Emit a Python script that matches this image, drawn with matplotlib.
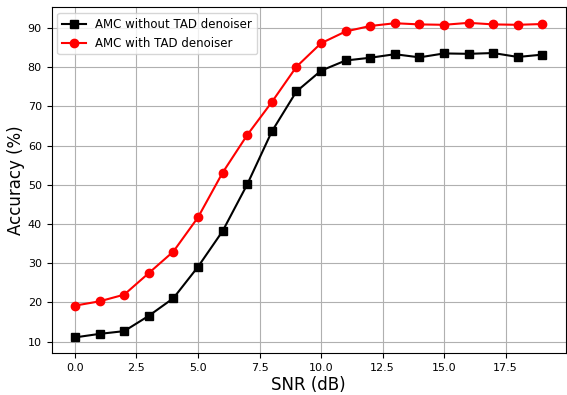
import numpy as np
import matplotlib
matplotlib.use("Agg")
import matplotlib.pyplot as plt

snr = list(range(20))
acc_without = [11.1, 12.0, 12.7, 16.6, 21.1, 29.1, 38.2, 50.1, 63.6, 73.8,
               79.1, 81.7, 82.4, 83.3, 82.5, 83.5, 83.4, 83.6, 82.6, 83.2]
acc_with = [19.2, 20.3, 22.0, 27.5, 33.0, 41.7, 53.1, 62.7, 71.1, 80.1,
            86.1, 89.1, 90.5, 91.2, 90.9, 90.8, 91.3, 90.9, 90.8, 91.0]

fig, ax = plt.subplots(figsize=(5.67, 3.95), dpi=100)
fig.subplots_adjust(left=0.091, right=0.998, top=0.982, bottom=0.106)

ax.plot(snr, acc_without, color='black', marker='s', markersize=6, label='AMC without TAD denoiser')
ax.plot(snr, acc_with, color='red', marker='o', markersize=6, label='AMC with TAD denoiser')

ax.set_xlabel('SNR (dB)', fontsize=12, labelpad=2)
ax.set_ylabel('Accuracy (%)', fontsize=12, labelpad=2)
ax.tick_params(labelsize=8)
ax.set_xticks([0, 2.5, 5, 7.5, 10, 12.5, 15, 17.5])
ax.set_xticklabels(['0.0', '2.5', '5.0', '7.5', '10.0', '12.5', '15.0', '17.5'])
ax.grid(True)
ax.legend(loc='upper left', fontsize=8.5)

plt.savefig('out.png', dpi=100)
